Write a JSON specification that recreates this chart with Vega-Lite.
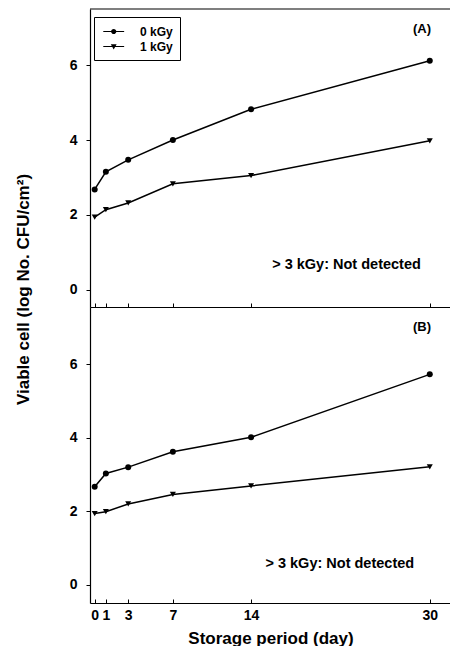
{
  "$schema": "https://vega.github.io/schema/vega-lite/v6.json",
  "padding": {"left": 14, "top": 8, "right": 0, "bottom": 0},
  "background": "white",
  "bounds": "flush",
  "spacing": 0,
  "config": {
    "font": "Liberation Sans",
    "view": {"stroke": null},
    "axis": {
      "domainColor": "black",
      "tickColor": "black",
      "labelColor": "black",
      "titleColor": "black",
      "labelFont": "Liberation Sans",
      "titleFont": "Liberation Sans",
      "labelFontWeight": "bold",
      "titleFontWeight": "bold",
      "labelFontSize": 14,
      "titleFontSize": 17,
      "grid": false,
      "domainWidth": 1.2,
      "tickWidth": 1
    }
  },
  "datasets": {
    "panelA": [
      {"day": 0, "value": 2.68, "series": "0 kGy"},
      {"day": 1, "value": 3.15, "series": "0 kGy"},
      {"day": 3, "value": 3.47, "series": "0 kGy"},
      {"day": 7, "value": 4.0, "series": "0 kGy"},
      {"day": 14, "value": 4.82, "series": "0 kGy"},
      {"day": 30, "value": 6.12, "series": "0 kGy"},
      {"day": 0, "value": 1.94, "series": "1 kGy"},
      {"day": 1, "value": 2.14, "series": "1 kGy"},
      {"day": 3, "value": 2.32, "series": "1 kGy"},
      {"day": 7, "value": 2.83, "series": "1 kGy"},
      {"day": 14, "value": 3.05, "series": "1 kGy"},
      {"day": 30, "value": 3.98, "series": "1 kGy"}
    ],
    "panelB": [
      {"day": 0, "value": 2.67, "series": "0 kGy"},
      {"day": 1, "value": 3.03, "series": "0 kGy"},
      {"day": 3, "value": 3.2, "series": "0 kGy"},
      {"day": 7, "value": 3.62, "series": "0 kGy"},
      {"day": 14, "value": 4.01, "series": "0 kGy"},
      {"day": 30, "value": 5.72, "series": "0 kGy"},
      {"day": 0, "value": 1.94, "series": "1 kGy"},
      {"day": 1, "value": 1.99, "series": "1 kGy"},
      {"day": 3, "value": 2.2, "series": "1 kGy"},
      {"day": 7, "value": 2.46, "series": "1 kGy"},
      {"day": 14, "value": 2.69, "series": "1 kGy"},
      {"day": 30, "value": 3.21, "series": "1 kGy"}
    ],
    "labelsA": [{"tag": "(A)", "note": "> 3 kGy: Not detected"}],
    "labelsB": [{"tag": "(B)", "note": "> 3 kGy: Not detected"}]
  },
  "resolve": {"legend": {"shape": "independent"}, "scale": {"shape": "independent"}},
  "vconcat": [
    {
      "width": 361,
      "height": 298,
      "resolve": {"scale": {"shape": "independent"}, "legend": {"shape": "independent"}},
      "layer": [
        {
          "data": {"name": "panelA"},
          "mark": {"type": "line", "color": "black", "strokeWidth": 1.5},
          "encoding": {
            "x": {"field": "day", "type": "quantitative", "scale": {"domain": [-0.42, 31.9], "nice": false, "zero": false},
                  "axis": {"values": [0, 1, 3, 7, 14, 30], "labels": false, "title": null, "tickSize": -4}},
            "y": {"field": "value", "type": "quantitative", "scale": {"domain": [-0.46, 7.5], "nice": false, "zero": false},
                  "axis": {"values": [0, 2, 4, 6], "tickSize": 4, "labelPadding": 9, "title": "Viable cell (log No. CFU/cm²)", "titleY": 280, "titlePadding": 37}},
            "detail": {"field": "series"}
          }
        },
        {
          "data": {"name": "panelA"},
          "mark": {"type": "point", "filled": true, "color": "black", "opacity": 1, "size": 36},
          "encoding": {
            "x": {"field": "day", "type": "quantitative"},
            "y": {"field": "value", "type": "quantitative"},
            "shape": {"field": "series", "type": "nominal",
                      "scale": {"domain": ["0 kGy", "1 kGy"], "range": ["circle", "triangle-down"]},
                      "legend": null}
          }
        },
        {
          "data": {"name": "panelA"},
          "mark": {"type": "point", "filled": true, "color": "black", "size": 0},
          "encoding": {
            "x": {"field": "day", "type": "quantitative"},
            "y": {"field": "value", "type": "quantitative"},
            "shape": {"field": "series", "type": "nominal",
                      "scale": {"domain": ["0 kGy", "1 kGy"], "range": ["M-0.8,-0.08H2.4V0.08H-0.8ZM1.2,0A0.4,0.4,0,1,1,0.4,0A0.4,0.4,0,1,1,1.2,0Z", "M-0.8,-0.08H2.4V0.08H-0.8ZM0.35,-0.35H1.25L0.8,0.45Z"]},
                      "legend": {"title": null, "orient": "none", "legendX": 4, "legendY": 8,
                                 "strokeColor": "black", "padding": 7,
                                 "symbolSize": 170, "symbolFillColor": "black", "symbolOpacity": 1,
                                 "labelFontSize": 12, "labelFontWeight": "bold", "labelColor": "black", "labelOffset": 24,
                                 "rowPadding": 1,
                                 "labelExpr": "datum.label + '        '"}}
          }
        },
        {
          "data": {"name": "labelsA"},
          "mark": {"type": "text", "fontWeight": "bold", "fontSize": 13, "align": "center", "color": "black"},
          "encoding": {"text": {"field": "tag"}, "x": {"datum": 29.3}, "y": {"datum": 6.97}}
        },
        {
          "data": {"name": "labelsA"},
          "mark": {"type": "text", "fontSize": 14.5, "fontWeight": "bold", "align": "right", "color": "black"},
          "encoding": {"text": {"field": "note"}, "x": {"datum": 29.2}, "y": {"datum": 0.66}}
        },
        {
          "data": {"name": "labelsA"},
          "mark": {"type": "rule", "color": "black", "strokeWidth": 1.2},
          "encoding": {"y": {"datum": 7.5}}
        }
      ]
    },
    {
      "width": 361,
      "height": 296,
      "layer": [
        {
          "data": {"name": "panelB"},
          "mark": {"type": "line", "color": "black", "strokeWidth": 1.5},
          "encoding": {
            "x": {"field": "day", "type": "quantitative", "scale": {"domain": [-0.42, 31.9], "nice": false, "zero": false},
                  "axis": {"values": [0, 1, 3, 7, 14, 30], "title": "Storage period (day)", "tickSize": -4, "labelPadding": 9, "titlePadding": 8}},
            "y": {"field": "value", "type": "quantitative", "scale": {"domain": [-0.49, 7.55], "nice": false, "zero": false},
                  "axis": {"values": [0, 2, 4, 6], "tickSize": 4, "labelPadding": 9, "title": null}},
            "detail": {"field": "series"}
          }
        },
        {
          "data": {"name": "panelB"},
          "mark": {"type": "point", "filled": true, "color": "black", "opacity": 1, "size": 36},
          "encoding": {
            "x": {"field": "day", "type": "quantitative"},
            "y": {"field": "value", "type": "quantitative"},
            "shape": {"field": "series", "type": "nominal",
                      "scale": {"domain": ["0 kGy", "1 kGy"], "range": ["circle", "triangle-down"]},
                      "legend": null}
          }
        },
        {
          "data": {"name": "labelsB"},
          "mark": {"type": "text", "fontWeight": "bold", "fontSize": 13, "align": "center", "color": "black"},
          "encoding": {"text": {"field": "tag"}, "x": {"datum": 29.3}, "y": {"datum": 7.02}}
        },
        {
          "data": {"name": "labelsB"},
          "mark": {"type": "text", "fontSize": 14.5, "fontWeight": "bold", "align": "right", "color": "black"},
          "encoding": {"text": {"field": "note"}, "x": {"datum": 28.6}, "y": {"datum": 0.58}}
        }
      ]
    }
  ]
}
